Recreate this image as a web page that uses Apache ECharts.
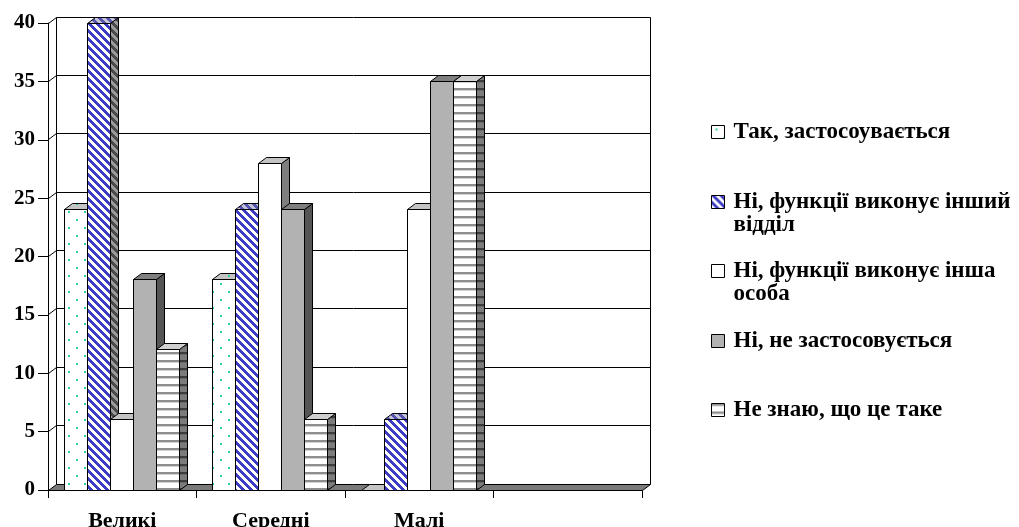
<!DOCTYPE html>
<html>
<head>
<meta charset="utf-8">
<script src="https://cdn.jsdelivr.net/npm/echarts@6/dist/echarts.min.js"></script>
<style>
  html, body { margin: 0; padding: 0; background: #fff; }
  #chart { width: 1019px; height: 527px; }
</style>
</head>
<body>
<div id="chart"></div>
<script>
// Enterprise size groups (4th slot is an empty category on the floor)
const categories = ['Великі', 'Середні', 'Малі', ''];

const seriesNames = [
  'Так, застосоувається',
  'Ні, функції виконує інший\nвідділ',
  'Ні, функції виконує інша\nособа',
  'Ні, не застосовується',
  'Не знаю, що це таке'
];

// Answers per size group
const valuesYes          = [24, 18, 0, null];
const valuesOtherDept    = [40, 24, 6, null];
const valuesOtherPerson  = [6, 28, 24, null];
const valuesNotUsed      = [18, 24, 35, null];
const valuesDontKnow     = [12, 6, 35, null];

const yTicks = [0, 5, 10, 15, 20, 25, 30, 35, 40];

const FONT = 'Liberation Serif';
const DX = 8, DY = -6;             // oblique depth of the 3D box
const BAR_FRAC = 23 / 148.5;       // single column width as part of a category band
const GAP_FRAC = 16 / 148.5;       // space before the first column in a band

// ---- fill patterns -------------------------------------------------------
function tile(w, h, draw) {
  const c = document.createElement('canvas');
  c.width = w; c.height = h;
  draw(c.getContext('2d'), w, h);
  return { image: c, repeat: 'repeat' };
}
function dots(bg, dot) {
  return tile(16, 16, (g) => {
    g.fillStyle = bg; g.fillRect(0, 0, 16, 16);
    g.fillStyle = dot;
    g.fillRect(4, 3, 2, 2);
    g.fillRect(12, 11, 2, 2);
  });
}
function hatch(a, b) {
  return tile(8, 8, (g) => {
    for (let y = 0; y < 8; y++) {
      for (let x = 0; x < 8; x++) {
        g.fillStyle = ((x - y + 16) % 8) < 4 ? a : b;
        g.fillRect(x, y, 1, 1);
      }
    }
  });
}
function hstripes(line, soft, bg) {
  return tile(8, 8, (g) => {
    g.fillStyle = bg; g.fillRect(0, 0, 8, 8);
    g.fillStyle = line; g.fillRect(0, 0, 8, 2);
    g.fillStyle = soft; g.fillRect(0, 2, 8, 1);
  });
}

const faces = [
  { front: dots('#ffffff', '#2fd0a0'), top: dots('#c4c4c4', '#2fd0a0'), side: '#7f7f7f' },
  { front: hatch('#3c3cc4', '#ffffff'), top: hatch('#5656b0', '#c4c4d4'), side: hatch('#4a4a4a', '#9a9a9a') },
  { front: '#ffffff', top: '#c4c4c4', side: '#7f7f7f' },
  { front: '#b2b2b2', top: '#7f7f7f', side: '#555555' },
  { front: hstripes('#8e8e8e', '#d2d2d2', '#ffffff'), top: '#cfcfcf', side: hstripes('#3c3c3c', '#6a6a6a', '#7c7c7c') }
];

const seriesValues = [valuesYes, valuesOtherDept, valuesOtherPerson, valuesNotUsed, valuesDontKnow];

const snap = (v) => Math.round(v - 0.5) + 0.5;

// ---- walls, grid lines and floor ----------------------------------------
function renderFrame(params, api) {
  const cs = params.coordSys;
  const left = snap(cs.x), right = snap(cs.x + cs.width);
  const bottom = snap(api.coord([0, 0])[1]);
  const yTop = snap(api.coord([0, yTicks[yTicks.length - 1]])[1]);
  const stroke = { stroke: '#000', lineWidth: 1, fill: null };
  const children = [];
  yTicks.forEach((t) => {
    if (t === 0) return;
    const y = snap(api.coord([0, t])[1]);
    children.push({ type: 'polyline', shape: { points: [[left, y], [left + DX, y + DY], [right + DX, y + DY]] }, style: stroke });
  });
  children.push({ type: 'line', shape: { x1: left + DX, y1: yTop + DY, x2: left + DX, y2: bottom + DY }, style: stroke });
  children.push({ type: 'line', shape: { x1: right + DX, y1: yTop + DY, x2: right + DX, y2: bottom + DY }, style: stroke });
  children.push({
    type: 'polygon',
    shape: { points: [[left, bottom], [right, bottom], [right + DX, bottom + DY], [left + DX, bottom + DY]] },
    style: { fill: '#7a7a7a', stroke: '#000', lineWidth: 1 }
  });
  return { type: 'group', children };
}

// ---- 3D columns ----------------------------------------------------------
function makeColumnRenderer(idx) {
  const f = faces[idx];
  return function (params, api) {
    const cat = api.value(0);
    const val = api.value(1);
    if (val == null || isNaN(val)) return null;
    const band = api.size([1, 0])[0];
    const base = api.coord([cat, 0]);
    const top = api.coord([cat, val]);
    const bw = band * BAR_FRAC;
    const x0 = snap(base[0] - band / 2 + band * GAP_FRAC + idx * bw);
    const x1 = snap(base[0] - band / 2 + band * GAP_FRAC + (idx + 1) * bw);
    const yb = snap(base[1]);
    const yt = snap(top[1]);
    const line = { stroke: '#000', lineWidth: 1 };
    return {
      type: 'group',
      children: [
        { type: 'polygon', shape: { points: [[x0, yt], [x1, yt], [x1, yb], [x0, yb]] }, style: Object.assign({ fill: f.front }, line) },
        { type: 'polygon', shape: { points: [[x1, yt], [x1 + DX, yt + DY], [x1 + DX, yb + DY], [x1, yb]] }, style: Object.assign({ fill: f.side }, line) },
        { type: 'polygon', shape: { points: [[x0, yt], [x1, yt], [x1 + DX, yt + DY], [x0 + DX, yt + DY]] }, style: Object.assign({ fill: f.top }, line) }
      ]
    };
  };
}

const columnSeries = seriesValues.map((vals, i) => ({
  type: 'custom',
  name: seriesNames[i],
  renderItem: makeColumnRenderer(i),
  encode: { x: 0, y: 1 },
  itemStyle: { color: faces[i].front },
  data: vals.map((v, j) => [j, v]),
  z: 3 + i
}));

// legend rows: icon centres, one component per entry; a leading blank line
// keeps the icon level with the first line of a two-line label
const legendCentres = [132, 202, 271, 341, 410];
const LH = 23;
const legends = seriesNames.map((name, i) => {
  const twoLines = name.indexOf('\n') >= 0;
  const blockHalf = twoLines ? LH * 1.5 : LH / 2;
  return {
    left: 711,
    top: legendCentres[i] - blockHalf,
    padding: 0,
    itemWidth: 13,
    itemHeight: 13,
    selectedMode: false,
    formatter: (n) => (n.indexOf('\n') >= 0 ? '\n' + n : n),
    data: [{ name, icon: 'rect', itemStyle: { color: faces[i].front, borderColor: '#000', borderWidth: 1 } }],
    textStyle: {
      fontFamily: FONT, fontWeight: 'bold', fontSize: 23, color: '#000',
      lineHeight: LH, padding: [0, 0, 0, 4]
    }
  };
});

const chart = echarts.init(document.getElementById('chart'), null, { renderer: 'canvas' });
chart.setOption({
  animation: false,
  backgroundColor: '#ffffff',
  legend: legends,
  grid: { left: 48, right: 377, top: 23, bottom: 37, containLabel: false, outerBoundsMode: 'none' },
  xAxis: {
    type: 'category',
    data: categories,
    axisLine: { show: true, lineStyle: { color: '#000', width: 1 } },
    axisTick: { show: true, length: 8, interval: 0, lineStyle: { color: '#000' } },
    axisLabel: { fontFamily: FONT, fontWeight: 'bold', fontSize: 22, color: '#000', margin: 20, interval: 0 },
    splitLine: { show: false }
  },
  yAxis: {
    type: 'value',
    min: 0, max: 40, interval: 5,
    axisLine: { show: true, lineStyle: { color: '#000', width: 1 } },
    axisTick: { show: true, length: 10, lineStyle: { color: '#000' } },
    axisLabel: { fontFamily: FONT, fontWeight: 'bold', fontSize: 21, color: '#000', margin: 13 },
    splitLine: { show: false }
  },
  series: [
    {
      type: 'custom',
      name: 'frame',
      renderItem: renderFrame,
      encode: { x: 0, y: 1 },
      data: [[0, 0]],
      silent: true,
      z: 1
    }
  ].concat(columnSeries)
});
</script>
</body>
</html>
